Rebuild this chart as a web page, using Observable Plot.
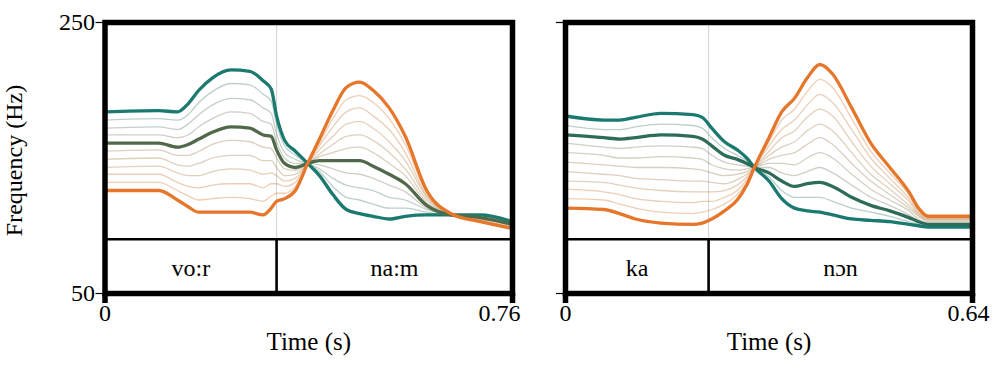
<!DOCTYPE html>
<html><head><meta charset="utf-8">
<script src="https://cdn.jsdelivr.net/npm/d3@7"></script>
<script src="https://cdn.jsdelivr.net/npm/@observablehq/plot@0.6"></script>
<style>
html,body{margin:0;padding:0;background:#fff;}
#chart{position:relative;width:1000px;height:368px;overflow:hidden;}
#chart svg{position:absolute;top:0;}
#chart svg text{font-family:'Liberation Serif','Times New Roman',serif;}
</style></head><body><div id="chart"></div>
<script>
// ---------- data ----------
const yTicks = [50, 250];
const tierTop = 90;      // upper edge of the text tier (in axis units)
const tierLabelY = 70;   // vertical middle of the text tier

// Panel 1: "vo:r na:m"
const voorTimes = [0,0.10,0.135,0.155,0.175,0.20,0.235,0.27,0.295,0.31,0.32,0.335,0.355,0.378,0.40,0.425,0.45,0.475,0.50,0.53,0.56,0.60,0.645,0.70,0.76];
// continuum steps: index 0 = orange endpoint, index 10 = teal endpoint
const voorSteps = [
  [126,126,119,114,110,110,110,110,108,113,118,120,126,146,164,185,202,206,200,187,166,126,109,103,98],
  [132,132,126,122,119,120,121,120,118,122,124,124,129,146,161,179,193,196,191,179,160,124,109,104,99],
  [138,138,132,129,128,130,131,131,128,131,131,129,132,146,159,173,184,187,181,171,154,122,109,104,99],
  [143,144,139,137,137,140,142,141,138,139,137,133,135,146,156,166,175,177,172,162,148,121,109,105,100],
  [149,150,145,144,146,150,152,152,148,148,143,137,138,146,153,160,166,167,163,154,142,119,109,105,100],
  [155,156,152,152,155,160,163,162,158,157,150,142,141,146,151,154,157,158,154,146,137,117,109,106,101],
  [161,161,158,160,164,169,173,172,167,166,156,146,143,146,148,148,148,148,144,138,131,115,108,106,101],
  [167,167,165,167,173,179,184,183,177,175,162,150,146,146,145,142,139,138,135,130,125,113,108,107,102],
  [172,173,171,175,182,189,194,193,187,183,168,154,149,146,142,135,130,128,126,121,119,112,108,107,102],
  [178,179,178,182,191,199,205,204,197,192,175,159,152,146,140,129,121,119,116,113,113,110,108,108,103],
  [184,185,184,190,200,209,215,214,207,201,181,163,155,146,137,123,112,109,107,105,107,108,108,108,103]
];
const voorMidStep = 6;
const voorSegments = ["vo:r", "na:m"];
const voorBounds = [0, 0.32, 0.76];
const voorXTicks = [0, 0.76];

// Panel 2: "ka nɔn"
const kanonTimes = [0,0.06,0.085,0.11,0.15,0.20,0.215,0.23,0.25,0.27,0.285,0.297,0.32,0.34,0.36,0.38,0.40,0.42,0.45,0.48,0.51,0.54,0.555,0.57,0.60,0.64];
const kanonSteps = [
  [113,112,109,105,102,101,102,105,111,119,130,143,165,184,194,209,219,212,187,161,143,125,113,107,107,107],
  [120,119,116,113,110,109,110,112,116,123,132,143,162,178,186,199,208,202,179,155,139,123,112,106,106,106],
  [127,125,123,120,118,117,118,118,121,126,134,143,159,171,178,189,197,191,171,150,135,120,110,105,105,105],
  [133,132,130,128,126,125,125,125,126,130,136,143,155,165,170,180,186,181,162,144,131,118,109,105,105,105],
  [140,138,137,135,134,133,133,132,131,134,138,143,152,158,162,170,175,170,154,138,127,115,108,104,104,104],
  [147,145,144,143,143,142,141,139,137,138,140,143,149,152,154,160,165,160,146,133,123,113,107,103,103,103],
  [154,152,150,150,151,150,149,145,142,141,142,143,146,146,145,150,154,150,138,127,119,111,105,102,102,102],
  [161,158,157,158,159,158,157,152,147,145,144,143,143,139,137,140,143,139,130,121,115,108,104,101,101,101],
  [167,165,164,165,167,166,164,159,152,149,146,143,139,133,129,131,132,129,121,115,111,106,103,101,101,101],
  [174,171,171,173,175,174,172,165,157,152,148,143,136,126,121,121,121,118,113,110,107,103,101,100,100,100],
  [181,178,178,180,183,182,180,172,162,156,150,143,133,120,113,111,110,108,105,104,103,101,100,99,99,99]
];
const kanonMidStep = 8;
const kanonSegments = ["ka", "nɔn"];
const kanonBounds = [0, 0.225, 0.64];
const kanonXTicks = [0, 0.64];

// ---------- drawing ----------
const ORANGE = "#e5762a", TEAL = "#1b7a6f";
const FONT = "'Liberation Serif', 'Times New Roman', serif";

function panel(o) {
  const rows = o.steps.flatMap((vals, k) => vals.map((f, i) => ({t: o.times[i], f, step: k})));
  const last = o.steps.length - 1;
  const segRows = o.segments.map((s, i) => ({label: s, mid: (o.bounds[i] + o.bounds[i + 1]) / 2}));
  const inner = o.bounds.slice(1, -1);
  const lineOpts = {x: "t", y: "f", curve: "monotone-x", strokeWidth: 3.3, strokeLinejoin: "round"};
  const fmt = d => String(d);
  const marks = [
    Plot.ruleX(inner, {y1: tierTop, y2: yTicks[1], stroke: "#d2d2d2", strokeWidth: 1}),
    Plot.line(rows.filter(d => d.step !== 0 && d.step !== last && d.step !== o.midStep),
      {x: "t", y: "f", z: "step", stroke: "step", strokeOpacity: 0.36, strokeWidth: 1.3, curve: "monotone-x"}),
    Plot.line(rows.filter(d => d.step === last), {...lineOpts, stroke: TEAL}),
    Plot.line(rows.filter(d => d.step === o.midStep), {...lineOpts, stroke: o.midColor}),
    Plot.line(rows.filter(d => d.step === 0), {...lineOpts, stroke: ORANGE}),
    Plot.ruleY([tierTop], {stroke: "#000", strokeWidth: 2.6}),
    Plot.ruleX(inner, {y1: yTicks[0], y2: tierTop, stroke: "#000", strokeWidth: 2.6}),
    Plot.text(segRows, {x: "mid", y: tierLabelY, text: "label", fontSize: 24, dy: 2, fontFamily: FONT}),
    Plot.frame({stroke: "#000", strokeWidth: 5.5}),
    Plot.axisY(yTicks, {tickSize: 9, tickPadding: 1, fontSize: 24, strokeWidth: 1.2, fontFamily: FONT,
      tickFormat: o.showY ? fmt : () => "", label: null}),
    Plot.axisX(o.xTicks, {tickSize: 10, strokeWidth: 5.5, tickFormat: () => "", label: null}),
    Plot.text([o.xTicks[0]], {x: d => d, frameAnchor: "bottom", dy: 27.6, text: fmt, fontSize: 24, fontFamily: FONT}),
    Plot.text([o.xTicks[1]], {x: d => d, frameAnchor: "bottom", dy: 27.6, dx: o.endDx, text: fmt, fontSize: 24, fontFamily: FONT}),
    Plot.text(["Time (s)"], {frameAnchor: "bottom", dy: 56, fontSize: 25, fontFamily: FONT})
  ];
  if (o.showY) marks.push(Plot.text(["Frequency (Hz)"], {frameAnchor: "left", rotate: -90, dx: -90.5, dy: 2.5, fontSize: 24, textAnchor: "middle", fontFamily: FONT}));
  return Plot.plot({
    width: o.width, height: 368,
    marginLeft: o.marginLeft, marginRight: o.marginRight, marginTop: 22, marginBottom: 75,
    x: {domain: [o.xTicks[0], o.xTicks[1]]},
    y: {domain: [yTicks[0], yTicks[1]]},
    color: {type: "linear", domain: [0, last], range: [ORANGE, TEAL], interpolate: "lab"},
    style: {fontFamily: FONT, background: "transparent", color: "#000", overflow: "visible"},
    marks
  });
}

const p1 = panel({times: voorTimes, steps: voorSteps, midStep: voorMidStep, midColor: "#50694b",
  segments: voorSegments, bounds: voorBounds, xTicks: voorXTicks, showY: true,
  width: 540, marginLeft: 104.5, marginRight: 28, endDx: -13});
const p2 = panel({times: kanonTimes, steps: kanonSteps, midStep: kanonMidStep, midColor: "#2e6c5a",
  segments: kanonSegments, bounds: kanonBounds, xTicks: kanonXTicks, showY: false,
  width: 460, marginLeft: 25, marginRight: 28, endDx: -4});
p1.style.left = "0px";
p2.style.left = "540px";
const chart = document.getElementById("chart");
chart.appendChild(p1);
chart.appendChild(p2);
</script></body></html>
